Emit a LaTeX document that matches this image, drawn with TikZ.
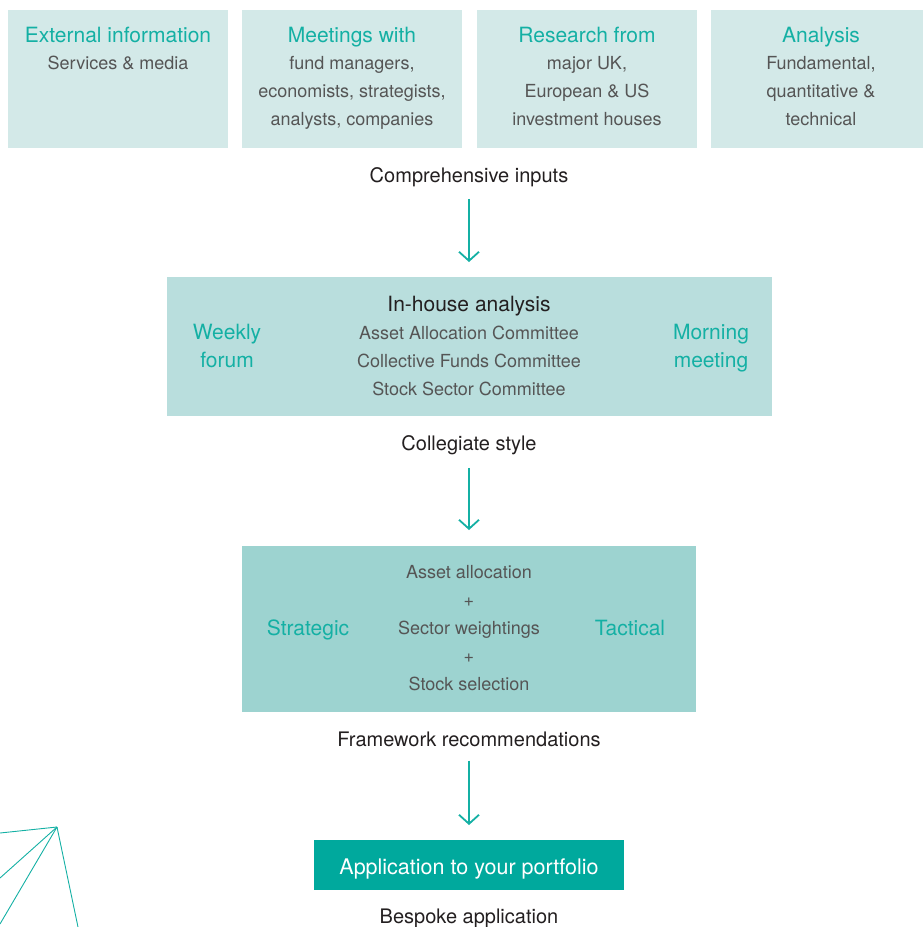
\documentclass[tikz,border=0pt]{standalone}
\usepackage{fontspec}
\setmainfont{TeX Gyre Heros}
\usetikzlibrary{arrows.meta,positioning}
\definecolor{PaleTeal}{HTML}{D3E9E8}
\definecolor{MidTeal}{HTML}{B9DEDD}
\definecolor{SoftTeal}{HTML}{9DD3D0}
\definecolor{DeepTeal}{HTML}{00A99D}
\definecolor{TealText}{HTML}{14B0A4}
\definecolor{GreyText}{HTML}{555555}
\definecolor{DarkText}{HTML}{231F20}

\begin{document}
\begin{tikzpicture}[x=1pt, y=-1pt,
		panel/.style={inner sep=0pt, anchor=north west},
		headtext/.style={font=\fontsize{21}{28}\selectfont, text=TealText, align=center},
		bodytext/.style={font=\fontsize{18}{28}\selectfont, text=GreyText, align=center},
		caption/.style={font=\fontsize{20}{24}\selectfont, text=DarkText, inner sep=0pt},
		flow/.style={draw=TealText, line width=1.8pt, -{Straight Barb[length=9pt,width=20pt]}}]
		\useasboundingbox (0,0) rectangle (923,927);
		% inputs
		\node[panel, fill=PaleTeal, minimum width=220pt, minimum height=138pt] (ext) at (8,10) {};
		\node[panel, fill=PaleTeal, minimum width=220pt, minimum height=138pt] (meet) at (242,10) {};
		\node[panel, fill=PaleTeal, minimum width=220pt, minimum height=138pt] (res) at (477,10) {};
		\node[panel, fill=PaleTeal, minimum width=212pt, minimum height=138pt] (ana) at (711,10) {};
		\node[headtext] (extT) at (118,35) {External information};
		\node[bodytext] (extB) at (118,63) {Services \& media};
		\node[headtext] (meetT) at (352,37) {Meetings with};
		\node[bodytext] (meetB) at (352,93) {fund managers,\\economists, strategists,\\analysts, companies};
		\node[headtext] (resT) at (587,35) {Research from};
		\node[bodytext] (resB) at (587,91) {major UK,\\European \& US\\investment houses};
		\node[headtext] (anaT) at (821,37) {Analysis};
		\node[bodytext] (anaB) at (821,91) {Fundamental,\\quantitative \&\\technical};
		\node[caption] (ci) at (469,177) {Comprehensive inputs};
		% in-house
		\node[panel, fill=MidTeal, minimum width=605pt, minimum height=139pt] (ih) at (167,277) {};
		\node[caption, font=\fontsize{21}{24}\selectfont] (ihT) at (469,306) {In-house analysis};
		\node[bodytext] (ihB) at (469,361) {Asset Allocation Committee\\Collective Funds Committee\\Stock Sector Committee};
		\node[headtext] (wf) at (227,346) {Weekly\\forum};
		\node[headtext] (mm) at (711,348) {Morning\\meeting};
		\node[caption] (cs) at (469,445) {Collegiate style};
		% framework
		\node[panel, fill=SoftTeal, minimum width=454pt, minimum height=166pt] (fw) at (242,546) {};
		\node[bodytext] (fwB) at (469,628) {Asset allocation\\+\\Sector weightings\\+\\Stock selection};
		\node[headtext] (st) at (308,630) {Strategic};
		\node[headtext] (ta) at (630,628) {Tactical};
		\node[caption] (fr) at (469,739) {Framework recommendations};
		% application
		\node[panel, fill=DeepTeal, minimum width=310pt, minimum height=50pt] (app) at (314,840) {};
		\node[font=\fontsize{21.5}{24}\selectfont, text=white] (appT) at (469,869) {Application to your portfolio};
		\node[caption] (ba) at (469,918) {Bespoke application};
		% arrows
		\draw[flow, shorten <=12pt, shorten >=15pt] (ci.south) -- (ih.north -| ci.south);
		\draw[flow, shorten <=13pt, shorten >=16pt] (cs.south) -- (fw.north -| cs.south);
		\draw[flow, shorten <=14pt, shorten >=15pt] (fr.south) -- (app.north -| fr.south);
		% decorative rays
		\coordinate (apex) at (57,827);
		\foreach \p in {(0,833),(0,878),(0,924),(78,927)}
			\draw[TealText, line width=0.9pt] (apex) -- \p;
	\end{tikzpicture}
\end{document}
